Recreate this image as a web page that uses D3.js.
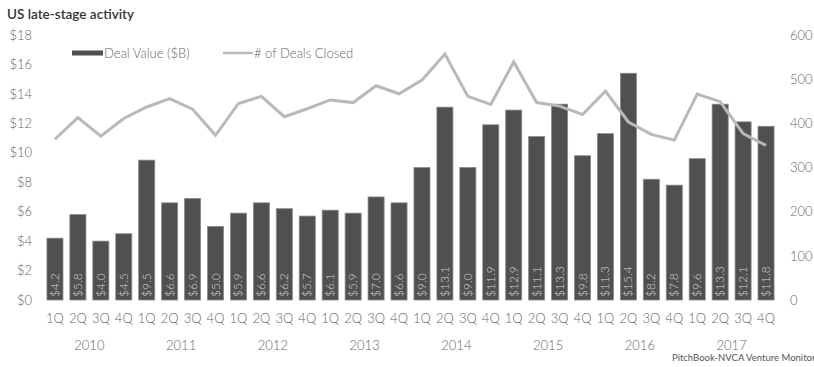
<!DOCTYPE html>
<html>
<head>
<meta charset="utf-8">
<script src="https://cdn.jsdelivr.net/npm/d3@7"></script>
<style>
  html, body { margin: 0; padding: 0; background: #fff; }
  svg { display: block; font-family: Lato, "Open Sans", sans-serif; }
</style>
</head>
<body>
<svg id="chart" width="814" height="367"></svg>
<script>
// Quarterly US late-stage venture activity, 2010–2017
const years = ["2010", "2011", "2012", "2013", "2014", "2015", "2016", "2017"];
const quarters = ["1Q", "2Q", "3Q", "4Q"];

// Deal value in $B, one entry per quarter
const dealValue = [
  4.2, 5.8, 4.0, 4.5,
  9.5, 6.6, 6.9, 5.0,
  5.9, 6.6, 6.2, 5.7,
  6.1, 5.9, 7.0, 6.6,
  9.0, 13.1, 9.0, 11.9,
  12.9, 11.1, 13.3, 9.8,
  11.3, 15.4, 8.2, 7.8,
  9.6, 13.3, 12.1, 11.8
];

// Number of deals closed, one entry per quarter
const dealsClosed = [
  364, 413, 371, 411,
  437, 456, 432, 373,
  445, 461, 415, 433,
  453, 447, 485, 467,
  498, 557, 461, 443,
  539, 447, 439, 420,
  473, 403, 375, 362,
  466, 449, 377, 350
];

const leftTicks = [0, 2, 4, 6, 8, 10, 12, 14, 16, 18];
const rightTicks = [0, 100, 200, 300, 400, 500, 600];

const svg = d3.select("#chart");

const periods = d3.range(dealValue.length);
const x = d3.scaleBand().domain(periods).range([43.5, 777.5]).paddingInner(0.3).paddingOuter(0.15);
const yL = d3.scaleLinear().domain([0, 18]).range([300, 35]);
const yR = d3.scaleLinear().domain([0, 600]).range([300, 35]);

const tickColor = "#666";
const lightWeight = 300;

// Title
svg.append("text")
  .attr("x", 7).attr("y", 19)
  .attr("font-size", 13.5).attr("font-weight", 600).attr("fill", "#333")
  .text("US late-stage activity");

// Left axis ($B)
const leftAxis = d3.axisLeft(yL).tickValues(leftTicks).tickSize(0).tickPadding(0)
  .tickFormat(d => "$" + d);
svg.append("g").attr("transform", "translate(32,0)").call(leftAxis)
  .call(g => g.select(".domain").remove())
  .call(g => g.selectAll("text").attr("font-size", 13).attr("fill", tickColor)
    .attr("font-weight", lightWeight).attr("font-family", "Lato, sans-serif"));

// Right axis (deal count)
const rightAxis = d3.axisRight(yR).tickValues(rightTicks).tickSize(0).tickPadding(0);
svg.append("g").attr("transform", "translate(790,0)").call(rightAxis)
  .call(g => g.select(".domain").remove())
  .call(g => g.selectAll("text").attr("font-size", 13).attr("fill", tickColor)
    .attr("font-weight", lightWeight).attr("font-family", "Lato, sans-serif"));

// Bars
svg.append("g").selectAll("rect")
  .data(dealValue)
  .join("rect")
  .attr("x", (d, i) => x(i))
  .attr("y", d => yL(d))
  .attr("width", x.bandwidth())
  .attr("height", d => yL(0) - yL(d))
  .attr("fill", "#505050")
  .attr("stroke", "#8a8a8a")
  .attr("stroke-width", 0.8);

// Value labels inside bars, rotated
svg.append("g").selectAll("text")
  .data(dealValue)
  .join("text")
  .attr("transform", (d, i) => `translate(${x(i) + x.bandwidth() / 2 + 4},${yL(0) - 3}) rotate(-90)`)
  .attr("font-size", 12)
  .attr("font-weight", lightWeight)
  .attr("fill", "#d8d8d8")
  .text(d => "$" + d.toFixed(1));

// Deals closed line
const line = d3.line()
  .x((d, i) => x(i) + x.bandwidth() / 2)
  .y(d => yR(d));
svg.append("path")
  .datum(dealsClosed)
  .attr("d", line)
  .attr("fill", "none")
  .attr("stroke", "#b9b9b9")
  .attr("stroke-width", 3)
  .attr("stroke-linejoin", "miter");

// Quarter labels
svg.append("g").selectAll("text")
  .data(periods)
  .join("text")
  .attr("x", i => x(i) + x.bandwidth() / 2)
  .attr("y", 323)
  .attr("text-anchor", "middle")
  .attr("font-size", 13)
  .attr("font-weight", lightWeight)
  .attr("fill", tickColor)
  .text(i => quarters[i % 4]);

// Year labels centred under each group of four quarters
svg.append("g").selectAll("text")
  .data(years)
  .join("text")
  .attr("x", (d, j) => (x(j * 4 + 1) + x(j * 4 + 2) + x.bandwidth()) / 2)
  .attr("y", 350)
  .attr("text-anchor", "middle")
  .attr("font-size", 13)
  .attr("font-weight", lightWeight)
  .attr("fill", tickColor)
  .text(d => d);

// Legend
const legend = svg.append("g");
legend.append("rect")
  .attr("x", 72).attr("y", 50.5).attr("width", 31).attr("height", 5)
  .attr("fill", "#505050");
legend.append("text")
  .attr("x", 104).attr("y", 57.5)
  .attr("font-size", 13).attr("font-weight", lightWeight).attr("fill", tickColor)
  .text("Deal Value ($B)");
legend.append("line")
  .attr("x1", 223).attr("x2", 253).attr("y1", 53).attr("y2", 53)
  .attr("stroke", "#b9b9b9").attr("stroke-width", 2.5);
legend.append("text")
  .attr("x", 254).attr("y", 57.5)
  .attr("font-size", 13).attr("font-weight", lightWeight).attr("fill", tickColor)
  .text("# of Deals Closed");

// Source note
svg.append("text")
  .attr("x", 672).attr("y", 361)
  .attr("font-size", 9.5).attr("fill", "#555")
  .text("PitchBook-NVCA Venture Monitor");
</script>
</body>
</html>
